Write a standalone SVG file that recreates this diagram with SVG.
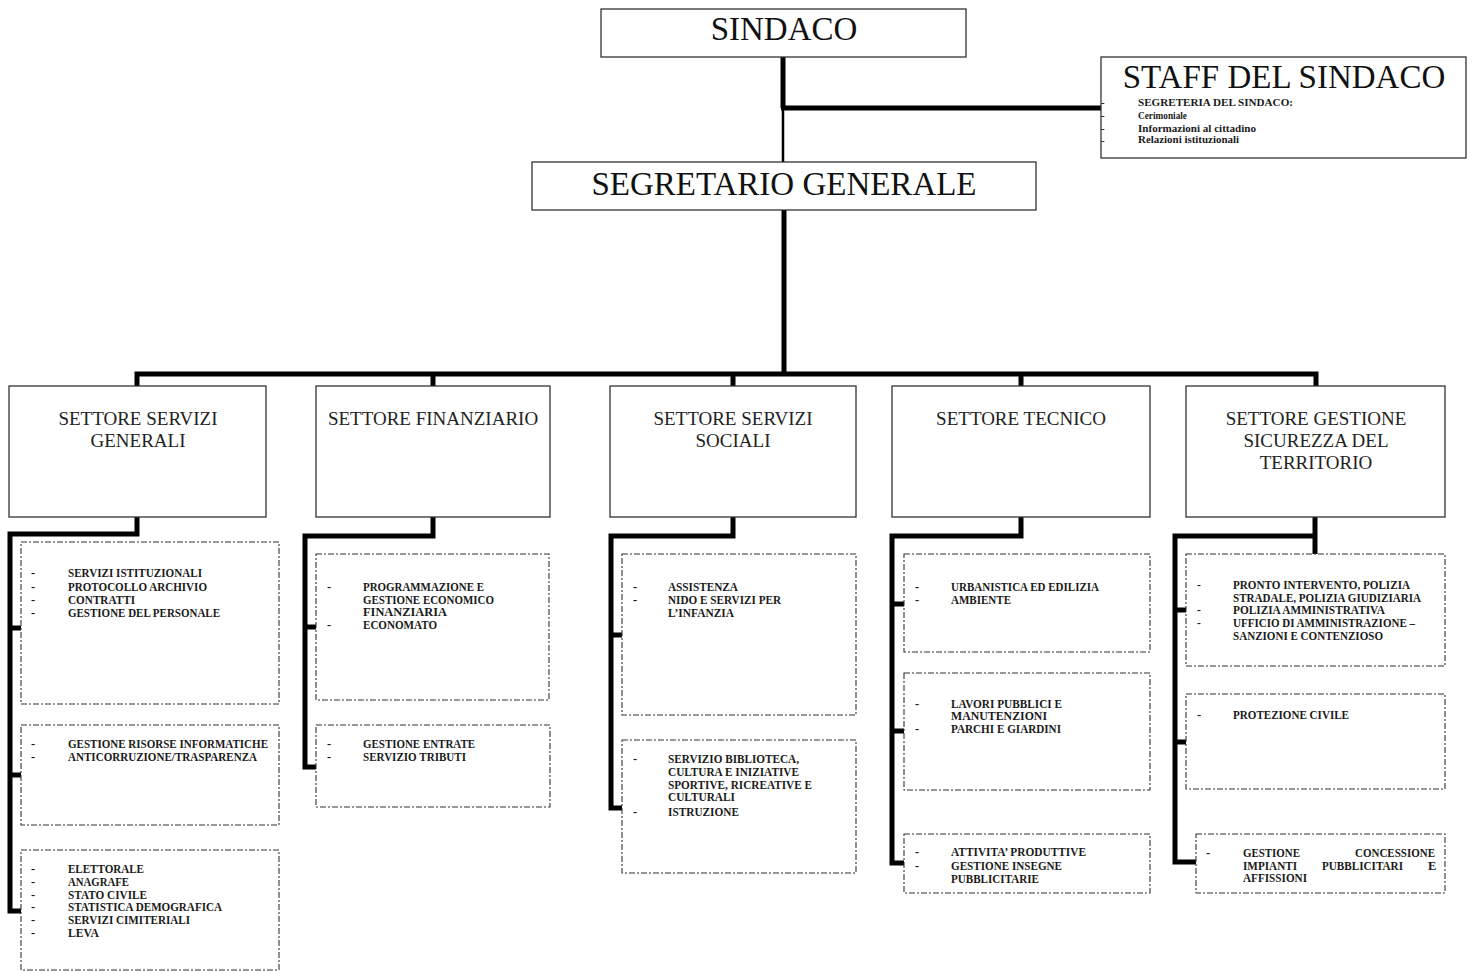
<svg xmlns="http://www.w3.org/2000/svg" width="1473" height="971" viewBox="0 0 1473 971">
<style>
.box{fill:#fff;stroke:#333;stroke-width:1.3}
.sub{fill:#fff;stroke:#333;stroke-width:1.1;stroke-dasharray:6 2 2 2}
.big{font-family:"Liberation Serif","Times New Roman",serif;font-size:33px;fill:#111;text-anchor:middle}
.mid{font-family:"Liberation Serif","Times New Roman",serif;font-size:19px;fill:#222;text-anchor:middle}
.sm{font-family:"Liberation Serif","Times New Roman",serif;font-size:12.5px;font-weight:bold;fill:#1a1a1a}
.sm2{font-family:"Liberation Serif","Times New Roman",serif;font-size:11.5px;font-weight:bold;fill:#1a1a1a}
.xs{font-family:"Liberation Serif","Times New Roman",serif;font-size:11px;font-weight:bold;fill:#1a1a1a}
.ln{fill:none;stroke:#000;stroke-width:5;stroke-linejoin:miter;stroke-linecap:butt}
</style>
<rect width="1473" height="971" fill="#fff"/>

<g id="connectors">
  <line class="ln" x1="783" y1="57" x2="783" y2="108"/>
  <line x1="783" y1="108" x2="783" y2="162" stroke="#000" stroke-width="2.5"/>
  <line class="ln" x1="781" y1="108" x2="1104" y2="108"/>
  <line class="ln" x1="784" y1="210" x2="784" y2="376"/>
  <polyline class="ln" points="137,386 137,374 1316,374 1316,386"/>
  <line class="ln" x1="433" y1="374" x2="433" y2="386"/>
  <line class="ln" x1="733" y1="372" x2="733" y2="386"/>
  <line class="ln" x1="1021" y1="374" x2="1021" y2="386"/>
  <!-- col1 -->
  <polyline class="ln" points="137,517 137,534 10,534 10,911 21,911"/>
  <line class="ln" x1="10" y1="628" x2="21" y2="628"/>
  <line class="ln" x1="10" y1="775" x2="21" y2="775"/>
  <!-- col2 -->
  <polyline class="ln" points="433,517 433,536 305,536 305,767 316,767"/>
  <line class="ln" x1="305" y1="627" x2="316" y2="627"/>
  <!-- col3 -->
  <polyline class="ln" points="733,517 733,536 611,536 611,808 622,808"/>
  <line class="ln" x1="611" y1="635" x2="622" y2="635"/>
  <!-- col4 -->
  <polyline class="ln" points="1021,517 1021,536 892,536 892,863 904,863"/>
  <line class="ln" x1="892" y1="604" x2="904" y2="604"/>
  <line class="ln" x1="892" y1="731" x2="904" y2="731"/>
  <!-- col5 -->
  <polyline class="ln" points="1315,517 1315,554"/>
  <polyline class="ln" points="1317,536 1175,536 1175,862 1196,862"/>
  <line class="ln" x1="1175" y1="610" x2="1186" y2="610"/>
  <line class="ln" x1="1175" y1="742" x2="1186" y2="742"/>
</g>

<g id="sindaco">
  <rect class="box" x="601" y="9" width="365" height="48"/>
  <text class="big" x="784" y="40">SINDACO</text>
</g>

<g id="staff">
  <rect class="box" x="1101" y="57" width="365" height="101"/>
  <text class="big" x="1284" y="88">STAFF DEL SINDACO</text>
  <text class="xs" x="1101" y="106">-</text>
  <text class="xs" x="1101" y="119">-</text>
  <text class="xs" x="1101" y="132">-</text>
  <text class="xs" x="1101" y="144">-</text>
  <text class="xs" x="1138" y="106" textLength="155" lengthAdjust="spacingAndGlyphs">SEGRETERIA DEL SINDACO:</text>
  <text class="xs" x="1138" y="119" textLength="49" lengthAdjust="spacingAndGlyphs">Cerimoniale</text>
  <text class="xs" x="1138" y="132" textLength="118" lengthAdjust="spacingAndGlyphs">Informazioni al cittadino</text>
  <text class="xs" x="1138" y="143" textLength="101" lengthAdjust="spacingAndGlyphs">Relazioni istituzionali</text>
</g>

<g id="segretario">
  <rect class="box" x="532" y="162" width="504" height="48"/>
  <text class="big" x="784" y="195">SEGRETARIO GENERALE</text>
</g>

<g id="settore-servizi-generali">
  <rect class="box" x="9" y="386" width="257" height="131"/>
  <text class="mid" x="138" y="425">SETTORE SERVIZI</text>
  <text class="mid" x="138" y="447">GENERALI</text>
</g>
<g id="settore-finanziario">
  <rect class="box" x="316" y="386" width="234" height="131"/>
  <text class="mid" x="433" y="425">SETTORE FINANZIARIO</text>
</g>
<g id="settore-servizi-sociali">
  <rect class="box" x="610" y="386" width="246" height="131"/>
  <text class="mid" x="733" y="425">SETTORE SERVIZI</text>
  <text class="mid" x="733" y="447">SOCIALI</text>
</g>
<g id="settore-tecnico">
  <rect class="box" x="892" y="386" width="258" height="131"/>
  <text class="mid" x="1021" y="425">SETTORE TECNICO</text>
</g>
<g id="settore-sicurezza">
  <rect class="box" x="1186" y="386" width="259" height="131"/>
  <text class="mid" x="1316" y="425">SETTORE GESTIONE</text>
  <text class="mid" x="1316" y="447">SICUREZZA DEL</text>
  <text class="mid" x="1316" y="469">TERRITORIO</text>
</g>

<!-- column 1 -->
<g id="sg-a">
  <rect class="sub" x="21" y="542" width="258" height="162"/>
  <text class="sm" x="31" y="577">-</text><text class="sm" x="68" y="577" textLength="134" lengthAdjust="spacingAndGlyphs">SERVIZI ISTITUZIONALI</text>
  <text class="sm" x="31" y="591">-</text><text class="sm" x="68" y="591" textLength="139" lengthAdjust="spacingAndGlyphs">PROTOCOLLO ARCHIVIO</text>
  <text class="sm" x="31" y="604">-</text><text class="sm" x="68" y="604" textLength="67" lengthAdjust="spacingAndGlyphs">CONTRATTI</text>
  <text class="sm" x="31" y="617">-</text><text class="sm" x="68" y="617" textLength="152" lengthAdjust="spacingAndGlyphs">GESTIONE DEL PERSONALE</text>
</g>
<g id="sg-b">
  <rect class="sub" x="21" y="725" width="258" height="100"/>
  <text class="sm" x="31" y="748">-</text><text class="sm" x="68" y="748" textLength="200" lengthAdjust="spacingAndGlyphs">GESTIONE RISORSE INFORMATICHE</text>
  <text class="sm" x="31" y="761">-</text><text class="sm" x="68" y="761" textLength="189" lengthAdjust="spacingAndGlyphs">ANTICORRUZIONE/TRASPARENZA</text>
</g>
<g id="sg-c">
  <rect class="sub" x="21" y="850" width="258" height="120"/>
  <text class="sm" x="31" y="873">-</text><text class="sm" x="68" y="873" textLength="76" lengthAdjust="spacingAndGlyphs">ELETTORALE</text>
  <text class="sm" x="31" y="886">-</text><text class="sm" x="68" y="886" textLength="61" lengthAdjust="spacingAndGlyphs">ANAGRAFE</text>
  <text class="sm" x="31" y="899">-</text><text class="sm" x="68" y="899" textLength="79" lengthAdjust="spacingAndGlyphs">STATO CIVILE</text>
  <text class="sm" x="31" y="911">-</text><text class="sm" x="68" y="911" textLength="154" lengthAdjust="spacingAndGlyphs">STATISTICA DEMOGRAFICA</text>
  <text class="sm" x="31" y="924">-</text><text class="sm" x="68" y="924" textLength="122" lengthAdjust="spacingAndGlyphs">SERVIZI CIMITERIALI</text>
  <text class="sm" x="31" y="937">-</text><text class="sm" x="68" y="937" textLength="31" lengthAdjust="spacingAndGlyphs">LEVA</text>
</g>

<!-- column 2 -->
<g id="fin-a">
  <rect class="sub" x="316" y="554" width="233" height="146"/>
  <text class="sm" x="327" y="591">-</text><text class="sm" x="363" y="591" textLength="121" lengthAdjust="spacingAndGlyphs">PROGRAMMAZIONE E</text>
  <text class="sm" x="363" y="604" textLength="131" lengthAdjust="spacingAndGlyphs">GESTIONE ECONOMICO</text>
  <text class="sm" x="363" y="616" textLength="84" lengthAdjust="spacingAndGlyphs">FINANZIARIA</text>
  <text class="sm" x="327" y="629">-</text><text class="sm" x="363" y="629" textLength="74" lengthAdjust="spacingAndGlyphs">ECONOMATO</text>
</g>
<g id="fin-b">
  <rect class="sub" x="316" y="725" width="234" height="82"/>
  <text class="sm" x="327" y="748">-</text><text class="sm" x="363" y="748" textLength="112" lengthAdjust="spacingAndGlyphs">GESTIONE ENTRATE</text>
  <text class="sm" x="327" y="761">-</text><text class="sm" x="363" y="761" textLength="103" lengthAdjust="spacingAndGlyphs">SERVIZIO TRIBUTI</text>
</g>

<!-- column 3 -->
<g id="soc-a">
  <rect class="sub" x="622" y="554" width="234" height="161"/>
  <text class="sm" x="633" y="591">-</text><text class="sm" x="668" y="591" textLength="70" lengthAdjust="spacingAndGlyphs">ASSISTENZA</text>
  <text class="sm" x="633" y="604">-</text><text class="sm" x="668" y="604" textLength="113" lengthAdjust="spacingAndGlyphs">NIDO E SERVIZI PER</text>
  <text class="sm" x="668" y="617" textLength="66" lengthAdjust="spacingAndGlyphs">L’INFANZIA</text>
</g>
<g id="soc-b">
  <rect class="sub" x="622" y="740" width="234" height="133"/>
  <text class="sm" x="633" y="763">-</text><text class="sm" x="668" y="763" textLength="131" lengthAdjust="spacingAndGlyphs">SERVIZIO BIBLIOTECA,</text>
  <text class="sm" x="668" y="776" textLength="131" lengthAdjust="spacingAndGlyphs">CULTURA E INIZIATIVE</text>
  <text class="sm" x="668" y="789" textLength="144" lengthAdjust="spacingAndGlyphs">SPORTIVE, RICREATIVE E</text>
  <text class="sm" x="668" y="801" textLength="67" lengthAdjust="spacingAndGlyphs">CULTURALI</text>
  <text class="sm" x="633" y="816">-</text><text class="sm" x="668" y="816" textLength="71" lengthAdjust="spacingAndGlyphs">ISTRUZIONE</text>
</g>

<!-- column 4 -->
<g id="tec-a">
  <rect class="sub" x="904" y="554" width="246" height="98"/>
  <text class="sm" x="915" y="591">-</text><text class="sm" x="951" y="591" textLength="148" lengthAdjust="spacingAndGlyphs">URBANISTICA ED EDILIZIA</text>
  <text class="sm" x="915" y="604">-</text><text class="sm" x="951" y="604" textLength="60" lengthAdjust="spacingAndGlyphs">AMBIENTE</text>
</g>
<g id="tec-b">
  <rect class="sub" x="904" y="673" width="246" height="117"/>
  <text class="sm" x="915" y="708">-</text><text class="sm" x="951" y="708" textLength="111" lengthAdjust="spacingAndGlyphs">LAVORI PUBBLICI E</text>
  <text class="sm" x="951" y="720" textLength="96" lengthAdjust="spacingAndGlyphs">MANUTENZIONI</text>
  <text class="sm" x="915" y="733">-</text><text class="sm" x="951" y="733" textLength="110" lengthAdjust="spacingAndGlyphs">PARCHI E GIARDINI</text>
</g>
<g id="tec-c">
  <rect class="sub" x="904" y="834" width="246" height="59"/>
  <text class="sm" x="915" y="856">-</text><text class="sm" x="951" y="856" textLength="135" lengthAdjust="spacingAndGlyphs">ATTIVITA’ PRODUTTIVE</text>
  <text class="sm" x="915" y="870">-</text><text class="sm" x="951" y="870" textLength="111" lengthAdjust="spacingAndGlyphs">GESTIONE INSEGNE</text>
  <text class="sm" x="951" y="883" textLength="88" lengthAdjust="spacingAndGlyphs">PUBBLICITARIE</text>
</g>

<!-- column 5 -->
<g id="sic-a">
  <rect class="sub" x="1186" y="554" width="259" height="112"/>
  <text class="sm2" x="1197" y="589">-</text><text class="sm2" x="1233" y="589" textLength="177" lengthAdjust="spacingAndGlyphs">PRONTO INTERVENTO, POLIZIA</text>
  <text class="sm2" x="1233" y="601.5" textLength="188" lengthAdjust="spacingAndGlyphs">STRADALE, POLIZIA GIUDIZIARIA</text>
  <text class="sm2" x="1197" y="614">-</text><text class="sm2" x="1233" y="614" textLength="152" lengthAdjust="spacingAndGlyphs">POLIZIA AMMINISTRATIVA</text>
  <text class="sm2" x="1197" y="626.5">-</text><text class="sm2" x="1233" y="626.5" textLength="182" lengthAdjust="spacingAndGlyphs">UFFICIO DI AMMINISTRAZIONE –</text>
  <text class="sm2" x="1233" y="640" textLength="150" lengthAdjust="spacingAndGlyphs">SANZIONI E CONTENZIOSO</text>
</g>
<g id="sic-b">
  <rect class="sub" x="1186" y="694" width="259" height="95"/>
  <text class="sm" x="1197" y="719">-</text><text class="sm" x="1233" y="719" textLength="116" lengthAdjust="spacingAndGlyphs">PROTEZIONE CIVILE</text>
</g>
<g id="sic-c">
  <rect class="sub" x="1196" y="834" width="249" height="59"/>
  <text class="sm" x="1206" y="857">-</text>
  <text class="sm" x="1243" y="857" textLength="57" lengthAdjust="spacingAndGlyphs">GESTIONE</text>
  <text class="sm" x="1355" y="857" textLength="80" lengthAdjust="spacingAndGlyphs">CONCESSIONE</text>
  <text class="sm" x="1243" y="870" textLength="54" lengthAdjust="spacingAndGlyphs">IMPIANTI</text>
  <text class="sm" x="1322" y="870" textLength="81" lengthAdjust="spacingAndGlyphs">PUBBLICITARI</text>
  <text class="sm" x="1428" y="870">E</text>
  <text class="sm" x="1243" y="882" textLength="64" lengthAdjust="spacingAndGlyphs">AFFISSIONI</text>
</g>
</svg>
